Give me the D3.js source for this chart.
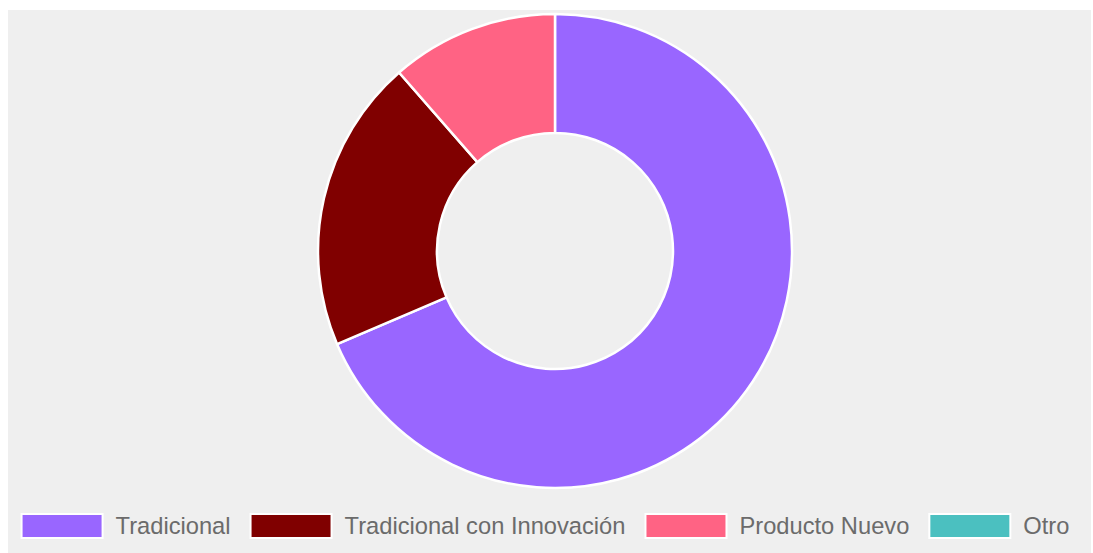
<!DOCTYPE html>
<html>
<head>
<meta charset="utf-8">
<script src="https://cdn.jsdelivr.net/npm/d3@7"></script>
<style>
  html, body { margin: 0; padding: 0; background: #ffffff; }
  svg { display: block; }
</style>
</head>
<body>
<svg id="chart" width="1093" height="553"></svg>
<script>
// Product type breakdown
const categories = ["Tradicional", "Tradicional con Innovación", "Producto Nuevo", "Otro"];
const counts = [24, 7, 4, 0];
const colors = ["#9966ff", "#800000", "#ff6384", "#4bc0c0"];

const W = 1093, H = 553;
const svg = d3.select("#chart");

// panel background
svg.append("rect")
  .attr("x", 8).attr("y", 10)
  .attr("width", 1083).attr("height", H - 10)
  .attr("fill", "#efefef");

const cx = 555, cy = 251, outerR = 237, innerR = 118;

const color = d3.scaleOrdinal().domain(categories).range(colors);

const pie = d3.pie().sort(null).value(d => d.value);
const arc = d3.arc().innerRadius(innerR).outerRadius(outerR);

const data = categories.map((c, i) => ({ name: c, value: counts[i] }));

svg.append("g")
  .attr("transform", `translate(${cx},${cy})`)
  .selectAll("path")
  .data(pie(data).filter(d => d.data.value > 0))
  .join("path")
  .attr("d", arc)
  .attr("fill", d => color(d.data.name))
  .attr("stroke", "#ffffff")
  .attr("stroke-width", 2.5)
  .attr("stroke-linejoin", "bevel");

// legend
const fontSize = 23.7;
const boxW = 81, boxH = 24, boxGap = 13, itemGap = 20;
const legendY = 526;
const legend = svg.append("g");

const items = legend.selectAll("g.item")
  .data(categories)
  .join("g")
  .attr("class", "item");

items.append("rect")
  .attr("width", boxW).attr("height", boxH)
  .attr("y", legendY - boxH / 2)
  .attr("fill", d => color(d))
  .attr("stroke", "#ffffff")
  .attr("stroke-width", 2);

items.append("text")
  .attr("x", boxW + boxGap)
  .attr("y", legendY)
  .attr("dy", "0.35em")
  .attr("font-family", "'Liberation Sans', Arial, Helvetica, sans-serif")
  .attr("font-size", fontSize)
  .attr("fill", "#6b6b6b")
  .text(d => d);

// position items in a centered row
let widths = [];
items.each(function () {
  const t = d3.select(this).select("text").node().getComputedTextLength();
  widths.push(boxW + boxGap + t);
});
const total = d3.sum(widths) + itemGap * (widths.length - 1);
let x = 545.5 - total / 2;
items.each(function (d, i) {
  d3.select(this).attr("transform", `translate(${x},0)`);
  x += widths[i] + itemGap;
});
</script>
</body>
</html>
